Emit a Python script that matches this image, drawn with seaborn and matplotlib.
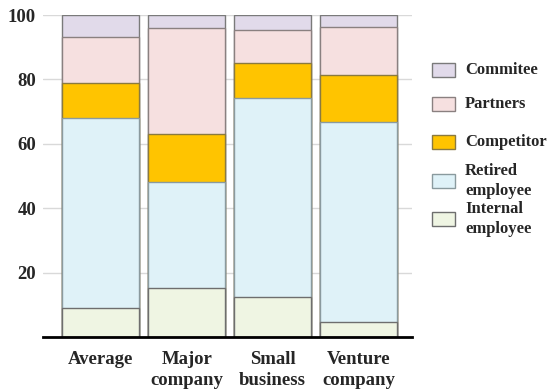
import numpy as np
import pandas as pd
import matplotlib
matplotlib.use("Agg")
import matplotlib.pyplot as plt
import seaborn as sns
from matplotlib.patches import Rectangle

categories = ["Average", "Major\ncompany", "Small\nbusiness", "Venture\ncompany"]
internal = [9.0, 15.3, 12.5, 4.7]
retired = [59.0, 32.7, 61.6, 62.0]
competitor = [10.8, 14.9, 10.9, 14.6]
partners = [14.3, 33.1, 10.3, 15.0]
committee = [6.9, 4.0, 4.7, 3.7]

series_names = ["Internal\nemployee", "Retired\nemployee", "Competitor", "Partners", "Commitee"]
series_vals = [internal, retired, competitor, partners, committee]
colors = ["#EFF5E3", "#DFF2F8", "#FFC400", "#F6E0E0", "#E1DAEA"]
edges = ["#6e6e6e", "#8a9a9e", "#8a7a40", "#8a8080", "#7a7a7a"]

sns.set_style("white")
plt.rcParams["font.family"] = ["Liberation Serif", "DejaVu Serif"]
plt.rcParams["font.weight"] = "bold"

W, H = 552, 391
fig = plt.figure(figsize=(5.52, 3.91), dpi=100)
ax = fig.add_axes([43/W, (H-337)/H, 369/W, 322/H])

cum = np.cumsum(np.array(series_vals), axis=0)
for i in range(len(series_vals) - 1, -1, -1):
    df = pd.DataFrame({"cat": categories, "val": cum[i]})
    sns.barplot(data=df, x="cat", y="val", ax=ax, color=colors[i],
                width=0.9, edgecolor=edges[i], linewidth=1.0, saturation=1)

ax.set_xlim(-0.67, 3.62)
ax.set_ylim(0, 100)
ax.set_yticks([20, 40, 60, 80, 100])
ax.yaxis.grid(True, color="#d9d9d9", linewidth=1)
ax.set_axisbelow(True)
for s in ["left", "right", "top"]:
    ax.spines[s].set_visible(False)
ax.spines["bottom"].set_color("black")
ax.spines["bottom"].set_linewidth(2)
ax.set_xlabel("")
ax.set_ylabel("")
ax.tick_params(axis="both", length=0, labelsize=13.5)
ax.tick_params(axis="y", pad=5)
ax.tick_params(axis="x", pad=10)
for t in ax.get_xticklabels() + ax.get_yticklabels():
    t.set_fontweight("bold")
    t.set_linespacing(1.3)

# legend (reverse order, top = Commitee)
centers = [70, 104, 142, 181, 219]
for k, i in enumerate(range(len(series_names) - 1, -1, -1)):
    cy = centers[k]
    fig.patches.append(Rectangle((432/W, (H - cy - 7)/H), 23/W, 14/H,
                                 transform=fig.transFigure, facecolor=colors[i],
                                 edgecolor=edges[i], linewidth=1.0))
    fig.text(465/W, (H - cy)/H, series_names[i], ha="left", va="center",
             fontsize=12, fontweight="bold", linespacing=1.3,
             family=["Liberation Serif", "DejaVu Serif"])

fig.savefig("out.png", dpi=100)
